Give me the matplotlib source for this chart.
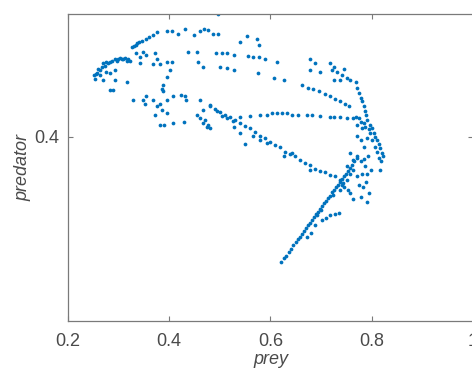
import matplotlib
matplotlib.use("Agg")
import matplotlib.pyplot as plt

# ---- data (prey, predator) ----
# bottom diagonal strand
strand_a_prey = [0.621, 0.626, 0.630, 0.636, 0.641, 0.645, 0.650, 0.654, 0.658, 0.662,
                 0.666, 0.670, 0.674, 0.678, 0.682, 0.686, 0.690, 0.694, 0.698, 0.702,
                 0.706, 0.710, 0.714, 0.718, 0.722, 0.726, 0.730, 0.734, 0.738, 0.742,
                 0.746, 0.750, 0.754, 0.758, 0.762, 0.766, 0.770,
                 0.672, 0.680, 0.688, 0.702, 0.710, 0.718, 0.727, 0.735,
                 0.692, 0.700, 0.724, 0.744]
strand_a_pred = [0.298, 0.301, 0.303, 0.306, 0.309, 0.312, 0.314, 0.317, 0.318, 0.321,
                 0.323, 0.326, 0.328, 0.330, 0.332, 0.335, 0.337, 0.339, 0.341, 0.344,
                 0.346, 0.348, 0.350, 0.352, 0.355, 0.357, 0.359, 0.361, 0.363, 0.366,
                 0.368, 0.370, 0.372, 0.375, 0.377, 0.380, 0.383,
                 0.318, 0.322, 0.328, 0.332, 0.334, 0.336, 0.337, 0.338,
                 0.336, 0.340, 0.353, 0.362]

# middle descending strand
strand_b_prey = [0.481, 0.490, 0.500, 0.510, 0.520, 0.530, 0.540, 0.550, 0.560, 0.570,
                 0.580, 0.589, 0.599, 0.609, 0.619, 0.629, 0.639, 0.649, 0.659, 0.669,
                 0.679, 0.688, 0.698, 0.708, 0.718, 0.728, 0.738,
                 0.495, 0.505, 0.515, 0.525]
strand_b_pred = [0.426, 0.423, 0.420, 0.418, 0.416, 0.414, 0.411, 0.409, 0.407, 0.404,
                 0.401, 0.399, 0.396, 0.393, 0.392, 0.388, 0.386, 0.384, 0.381, 0.379,
                 0.377, 0.374, 0.372, 0.371, 0.369, 0.368, 0.365,
                 0.421, 0.417, 0.415, 0.413]

# horizontal dashed strand
strand_c_prey = [0.580, 0.593, 0.603, 0.613, 0.622, 0.632, 0.642, 0.655, 0.672, 0.682,
                 0.698, 0.718, 0.725, 0.738, 0.751, 0.764, 0.540, 0.560]
strand_c_pred = [0.418, 0.418, 0.419, 0.419, 0.419, 0.419, 0.418, 0.418, 0.418, 0.418,
                 0.417, 0.416, 0.416, 0.416, 0.415, 0.415, 0.416, 0.417]

# upper dashed strand
strand_d_prey = [0.662, 0.675, 0.685, 0.695, 0.708, 0.718, 0.728, 0.738, 0.748, 0.756]
strand_d_pred = [0.442, 0.440, 0.439, 0.437, 0.435, 0.433, 0.431, 0.429, 0.427, 0.425]

# right arc and its cluster
arc_prey = [0.768, 0.771, 0.774, 0.778, 0.781, 0.784, 0.787, 0.789, 0.791, 0.796,
            0.801, 0.804, 0.807, 0.811, 0.814, 0.817, 0.820, 0.822,
            0.768, 0.774, 0.778, 0.784, 0.787, 0.794, 0.781, 0.771, 0.797, 0.791,
            0.801, 0.807, 0.811, 0.815, 0.818]
arc_pred = [0.445, 0.440, 0.436, 0.432, 0.429, 0.425, 0.421, 0.418, 0.414, 0.410,
            0.407, 0.403, 0.400, 0.397, 0.394, 0.391, 0.387, 0.384,
            0.416, 0.415, 0.412, 0.411, 0.408, 0.406, 0.407, 0.410, 0.403, 0.399,
            0.397, 0.392, 0.388, 0.383, 0.380]

# lower-right scatter
lr_prey = [0.784, 0.778, 0.771, 0.758, 0.764, 0.771, 0.778, 0.785, 0.792, 0.787,
           0.781, 0.791, 0.799, 0.764, 0.771, 0.774, 0.783, 0.789, 0.794, 0.791,
           0.758, 0.764, 0.778, 0.817, 0.751, 0.758, 0.745, 0.751, 0.754, 0.738, 0.741]
lr_pred = [0.392, 0.397, 0.401, 0.387, 0.381, 0.384, 0.380, 0.382, 0.384, 0.376,
           0.370, 0.370, 0.373, 0.373, 0.368, 0.361, 0.359, 0.363, 0.354, 0.347,
           0.354, 0.349, 0.351, 0.373, 0.376, 0.370, 0.359, 0.365, 0.357, 0.357, 0.361]

# upper-right scatter
ur_prey = [0.679, 0.688, 0.679, 0.698, 0.718, 0.725, 0.722, 0.731, 0.741, 0.751,
           0.758, 0.738, 0.725, 0.745]
ur_pred = [0.463, 0.460, 0.454, 0.453, 0.460, 0.457, 0.454, 0.453, 0.450, 0.448,
           0.446, 0.446, 0.446, 0.455]

# top-left arc and upper-left strand
tl_prey = [0.251, 0.253, 0.257, 0.263, 0.268, 0.273, 0.279, 0.286, 0.292, 0.299,
           0.306, 0.312, 0.319, 0.323, 0.269, 0.276,
           0.263, 0.276, 0.292, 0.269, 0.289, 0.283,
           0.327, 0.334, 0.341, 0.347, 0.354, 0.360, 0.367, 0.375,
           0.255, 0.260, 0.282, 0.296, 0.303, 0.309, 0.316, 0.330, 0.337]
tl_pred = [0.450, 0.447, 0.452, 0.454, 0.457, 0.458, 0.460, 0.462, 0.463, 0.463,
           0.463, 0.464, 0.463, 0.462, 0.460, 0.461,
           0.450, 0.453, 0.454, 0.446, 0.438, 0.452,
           0.473, 0.475, 0.477, 0.478, 0.480, 0.481, 0.483, 0.485,
           0.451, 0.455, 0.461, 0.462, 0.464, 0.463, 0.462, 0.474, 0.476]

# top scatter
top_prey = [0.395, 0.405, 0.418, 0.431, 0.448, 0.461, 0.469, 0.477, 0.487, 0.497,
            0.497, 0.540, 0.553, 0.574, 0.578,
            0.438, 0.454, 0.492, 0.504, 0.514, 0.527, 0.556, 0.566, 0.578, 0.589,
            0.613, 0.500, 0.514, 0.527, 0.467, 0.457, 0.405, 0.395, 0.375, 0.382,
            0.355, 0.342, 0.349, 0.372, 0.576, 0.607, 0.626, 0.335, 0.342, 0.367]
top_pred = [0.486, 0.486, 0.484, 0.488, 0.483, 0.486, 0.488, 0.487, 0.484, 0.484,
            0.500, 0.477, 0.482, 0.480, 0.475,
            0.469, 0.469, 0.468, 0.468, 0.468, 0.467, 0.466, 0.465, 0.465, 0.463,
            0.461, 0.457, 0.456, 0.454, 0.457, 0.461, 0.461, 0.461, 0.463, 0.459,
            0.467, 0.465, 0.469, 0.468, 0.452, 0.448, 0.446, 0.468, 0.460, 0.459]

# middle-left scatter
ml_prey = [0.283, 0.292, 0.316, 0.329, 0.349, 0.355, 0.368, 0.375, 0.385, 0.395,
           0.372, 0.382, 0.389, 0.408, 0.429, 0.431, 0.434, 0.461, 0.467, 0.471,
           0.474, 0.481, 0.454, 0.461, 0.481, 0.385, 0.388, 0.387, 0.395, 0.401,
           0.395, 0.352, 0.382, 0.408, 0.424, 0.466, 0.476]
ml_pred = [0.438, 0.446, 0.445, 0.430, 0.430, 0.433, 0.430, 0.425, 0.422, 0.419,
           0.418, 0.410, 0.410, 0.411, 0.412, 0.433, 0.430, 0.430, 0.422, 0.414,
           0.408, 0.407, 0.418, 0.415, 0.425, 0.439, 0.442, 0.437, 0.430, 0.454,
           0.449, 0.427, 0.427, 0.433, 0.434, 0.411, 0.410]

# middle scatter
mid_prey = [0.550, 0.566, 0.580, 0.593, 0.626, 0.642, 0.679, 0.527, 0.540]
mid_pred = [0.394, 0.401, 0.397, 0.395, 0.384, 0.387, 0.373, 0.408, 0.403]

xticks = [0.2, 0.4, 0.6, 0.8, 1.0]
xtick_labels = ["0.2", "0.4", "0.6", "0.8", "1"]
yticks = [0.4]
ytick_labels = ["0.4"]

prey = (strand_a_prey + strand_b_prey + strand_c_prey + strand_d_prey + arc_prey
        + lr_prey + ur_prey + tl_prey + top_prey + ml_prey + mid_prey)
pred = (strand_a_pred + strand_b_pred + strand_c_pred + strand_d_pred + arc_pred
        + lr_pred + ur_pred + tl_pred + top_pred + ml_pred + mid_pred)

plt.rcParams['font.family'] = ['Liberation Sans', 'DejaVu Sans']

fig = plt.figure(figsize=(4.72, 3.75), dpi=100)
ax = fig.add_axes([68/472, 1 - 321/375, 1 - 68/472 + 0.002, (321 - 14)/375])

ax.plot(prey, pred, linestyle='none', marker='o', markersize=2.7,
        markeredgewidth=0, color='#0072BD')

ax.set_xlim(0.2, 1.0)
ax.set_ylim(0.25, 0.5)
ax.set_xticks(xticks)
ax.set_xticklabels(xtick_labels)
ax.set_yticks(yticks)
ax.set_yticklabels(ytick_labels)

tick_color = '#4a4a4a'
for s in ax.spines.values():
    s.set_color('#7a7a7a')
    s.set_linewidth(0.9)
ax.tick_params(direction='in', length=3.5, width=0.8, color='#7a7a7a',
               labelcolor=tick_color, labelsize=13, top=True, right=True)
ax.tick_params(axis='x', pad=9)
ax.tick_params(axis='y', pad=6)

ax.set_xlabel('prey', fontsize=13, style='italic', color=tick_color, labelpad=0)
ax.set_ylabel('predator', fontsize=13, style='italic', color=tick_color, labelpad=2)

fig.savefig('out.png', dpi=100)
